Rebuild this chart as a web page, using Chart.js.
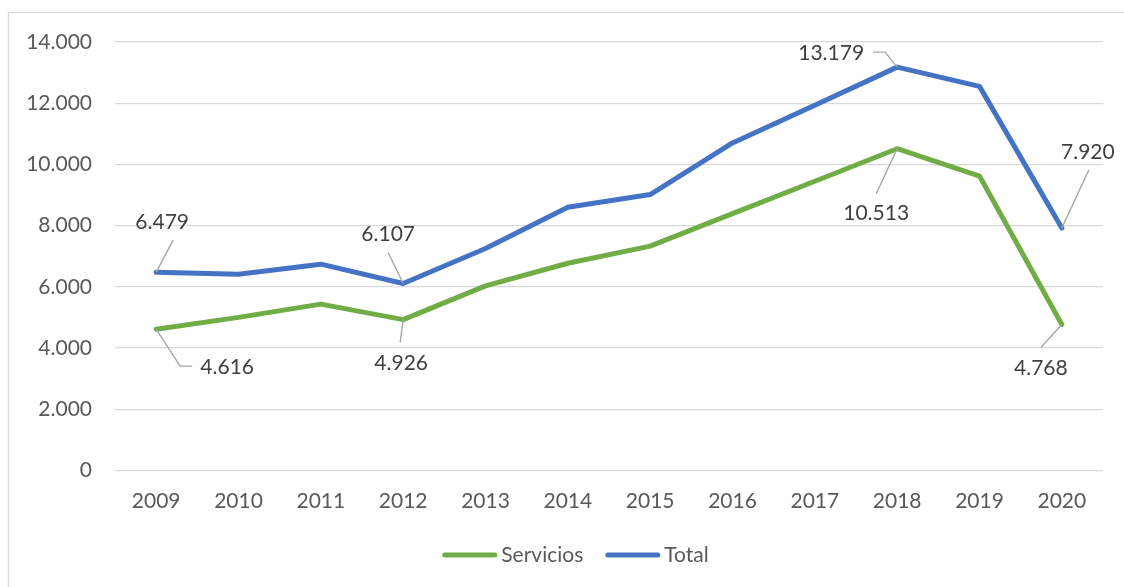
<!DOCTYPE html>
<html>
<head>
<meta charset="utf-8">
<script src="https://cdn.jsdelivr.net/npm/chart.js@4/dist/chart.umd.min.js"></script>
<style>
  html, body { margin: 0; padding: 0; background: #fff; }
  #wrap { position: relative; width: 1124px; height: 587px; }
</style>
</head>
<body>
<div id="wrap"><canvas id="chart"></canvas></div>
<script>
// Data
const years = ['2009', '2010', '2011', '2012', '2013', '2014', '2015', '2016', '2017', '2018', '2019', '2020'];
const servicios = [4616, 5000, 5434, 4926, 6030, 6770, 7330, 8390, 9450, 10513, 9620, 4768];
const total = [6479, 6410, 6740, 6107, 7250, 8600, 9015, 10700, 11935, 13179, 12550, 7920];
const yTicks = [0, 2000, 4000, 6000, 8000, 10000, 12000, 14000];

// Which points get a value label (dataset index, point index)
const labelled = [
    [0, 0], [0, 3], [0, 9], [0, 11],
    [1, 0], [1, 3], [1, 9], [1, 11]
];

// Label placement relative to its point: text offset and leader path (px)
const labelStyle = {
    '1-0':  { dx: 6,   dy: -50, leader: [[17, -32]] },
    '1-3':  { dx: -15, dy: -49, leader: [[-15, -31]] },
    '1-9':  { dx: -66, dy: -14, leader: [[-12, -15], [-24, -15]] },
    '1-11': { dx: 26,  dy: -76, leader: [[27, -58]] },
    '0-0':  { dx: 71,  dy: 38,  leader: [[24, 37], [36, 37]] },
    '0-3':  { dx: -2,  dy: 44,  leader: [[-3, 23]] },
    '0-9':  { dx: -21, dy: 65,  leader: [[-21, 45]] },
    '0-11': { dx: -21, dy: 44,  leader: [[-21, 23]] }
};

const FONT = 'Lato, "Open Sans", sans-serif';
const FSIZE = 21;

function fmt(v) {
    return String(Math.round(v)).replace(/\B(?=(\d{3})+(?!\d))/g, '.');
}

// Outer frame of the chart
const framePlugin = {
    id: 'frame',
    beforeDraw(chart) {
        const ctx = chart.ctx;
        ctx.save();
        ctx.strokeStyle = '#d9d9d9';
        ctx.lineWidth = 1.3;
        ctx.strokeRect(8.5, 12.5, chart.width + 20, chart.height + 20);
        ctx.restore();
    }
};

// Value labels with leader lines
const valueLabels = {
    id: 'valueLabels',
    afterDatasetsDraw(chart) {
        const ctx = chart.ctx;
        ctx.save();
        labelled.forEach(([ds, i]) => {
            const pt = chart.getDatasetMeta(ds).data[i];
            const st = labelStyle[ds + '-' + i];
            const value = chart.data.datasets[ds].data[i];

            ctx.strokeStyle = '#a6a6a6';
            ctx.lineWidth = 1.4;
            ctx.beginPath();
            ctx.moveTo(pt.x, pt.y);
            st.leader.forEach(([lx, ly]) => ctx.lineTo(pt.x + lx, pt.y + ly));
            ctx.stroke();

            ctx.fillStyle = '#404040';
            ctx.font = FSIZE + 'px ' + FONT;
            ctx.textAlign = 'center';
            ctx.textBaseline = 'middle';
            ctx.fillText(fmt(value), pt.x + st.dx, pt.y + st.dy);
        });
        ctx.restore();
    }
};

// Excel-style legend: long line swatch, text close to it
const lineLegend = {
    id: 'lineLegend',
    afterDraw(chart) {
        const ctx = chart.ctx;
        const sw = 55, gapText = 4, gapItem = 22, centerX = 575.5, y = 555;
        ctx.save();
        ctx.font = FSIZE + 'px ' + FONT;
        const items = chart.data.datasets.map(d => ({
            text: d.label, color: d.borderColor, w: ctx.measureText(d.label).width
        }));
        const totalW = items.reduce((s, it) => s + sw + gapText + it.w, 0) + gapItem * (items.length - 1);
        let x = centerX - totalW / 2;
        items.forEach(it => {
            ctx.strokeStyle = it.color;
            ctx.lineWidth = 5;
            ctx.lineCap = 'round';
            ctx.beginPath();
            ctx.moveTo(x + 2.5, y);
            ctx.lineTo(x + sw - 2.5, y);
            ctx.stroke();
            ctx.fillStyle = '#595959';
            ctx.textAlign = 'left';
            ctx.textBaseline = 'middle';
            ctx.fillText(it.text, x + sw + gapText, y);
            x += sw + gapText + it.w + gapItem;
        });
        ctx.restore();
    }
};

const ctx = document.getElementById('chart').getContext('2d');
const chart = new Chart(ctx, {
    type: 'line',
    data: {
        labels: years,
        datasets: [{
            label: 'Servicios',
            data: servicios,
            borderColor: '#70ad47',
            backgroundColor: '#70ad47',
            borderWidth: 5,
            borderCapStyle: 'round',
            borderJoinStyle: 'round',
            pointRadius: 0,
            tension: 0
        }, {
            label: 'Total',
            data: total,
            borderColor: '#4472c4',
            backgroundColor: '#4472c4',
            borderWidth: 5,
            borderCapStyle: 'round',
            borderJoinStyle: 'round',
            pointRadius: 0,
            tension: 0
        }]
    },
    options: {
        responsive: true,
        maintainAspectRatio: false,
        animation: false,
        devicePixelRatio: 1,
        layout: {
            padding: { top: 42, right: 21, bottom: 51, left: 0 }
        },
        plugins: {
            legend: { display: false },
            tooltip: { enabled: false }
        },
        scales: {
            x: {
                offset: true,
                grid: { display: false },
                border: { display: false },
                ticks: {
                    color: '#595959',
                    padding: 10,
                    font: { family: FONT, size: FSIZE }
                },
                afterFit(scale) { scale.height = 65.6; }
            },
            y: {
                min: 0,
                max: 14000,
                afterBuildTicks(scale) {
                    scale.ticks = yTicks.map(v => ({ value: v }));
                },
                grid: { color: '#d9d9d9', lineWidth: 1.3, drawTicks: false },
                border: { display: false },
                ticks: {
                    color: '#595959',
                    padding: 23,
                    font: { family: FONT, size: FSIZE },
                    callback: v => fmt(v)
                },
                afterFit(scale) { scale.width = 115; }
            }
        }
    },
    plugins: [framePlugin, valueLabels, lineLegend]
});
</script>
</body>
</html>
